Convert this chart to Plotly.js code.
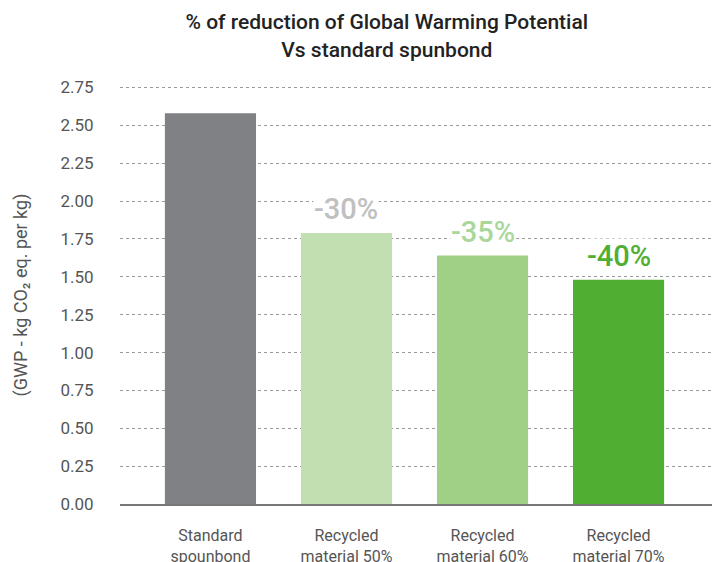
<!DOCTYPE html>
<html>
<head>
<meta charset="utf-8">
<script src="https://cdn.plot.ly/plotly-3.0.1.min.js"></script>
<style>html,body{margin:0;padding:0;background:#fff;}#chart{width:715px;height:562px;}</style>
</head>
<body>
<div id="chart"></div>
<script>
var categories = ["Standard<br>spounbond", "Recycled<br>material 50%", "Recycled<br>material 60%", "Recycled<br>material 70%"];
var gwpValues = [2.58, 1.79, 1.64, 1.48];
var reductionLabels = ["", "-30%", "-35%", "-40%"];
var barColors = ["#808184", "#c1dfb0", "#9fd086", "#50ae32"];
var labelColors = ["#c0c0c0", "#c0c0c0", "#a9d79a", "#50ae32"];
var yTicks = [0, 0.25, 0.5, 0.75, 1, 1.25, 1.5, 1.75, 2, 2.25, 2.5, 2.75];
var yTickText = ["0.00","0.25","0.50","0.75","1.00","1.25","1.50","1.75","2.00","2.25","2.50","2.75"];

var trace = {
  type: "bar",
  x: categories,
  y: gwpValues,
  width: 0.67,
  marker: {color: barColors},
  hoverinfo: "none"
};

var annotations = [];
for (var i = 0; i < categories.length; i++) {
  if (!reductionLabels[i]) continue;
  annotations.push({
    x: categories[i], y: gwpValues[i], xref: "x", yref: "y",
    text: reductionLabels[i], showarrow: false,
    yanchor: "bottom", yshift: 6,
    bgcolor: "#ffffff", borderpad: 0,
    font: {family: "Roboto", size: 29, color: labelColors[i], weight: 500}
  });
}

var layout = {
  width: 715, height: 562,
  margin: {l: 120, r: 3, t: 86, b: 58},
  paper_bgcolor: "#fff", plot_bgcolor: "#fff",
  showlegend: false,
  font: {family: "Roboto", color: "#555"},
  title: {
    text: "% of reduction of Global Warming Potential<br>Vs standard spunbond",
    font: {family: "Roboto", size: 21, color: "#222", weight: 500},
    x: 0.541, xanchor: "center", y: 0.948, yanchor: "top"
  },
  xaxis: {
    type: "category",
    range: [-0.665, 3.687],
    showgrid: false, zeroline: false,
    showline: true, linecolor: "#777", linewidth: 2,
    ticks: "outside", ticklen: 16, tickcolor: "rgba(0,0,0,0)",
    tickfont: {family: "Roboto", size: 16, color: "#555"},
    fixedrange: true
  },
  yaxis: {
    range: [0, 2.76],
    tickvals: yTicks, ticktext: yTickText,
    showgrid: true, gridcolor: "#9a9a9a", griddash: "dot", gridwidth: 1,
    zeroline: false, showline: false,
    ticks: "outside", ticklen: 22, tickcolor: "rgba(0,0,0,0)",
    tickfont: {family: "Roboto", size: 17, color: "#555"},
    title: {text: "(GWP - kg CO₂ eq. per kg)", font: {family: "Roboto", size: 18, color: "#555"}, standoff: 28},
    fixedrange: true
  },
  annotations: annotations
};

Plotly.newPlot("chart", [trace], layout, {displayModeBar: false, staticPlot: true});
</script>
</body>
</html>
